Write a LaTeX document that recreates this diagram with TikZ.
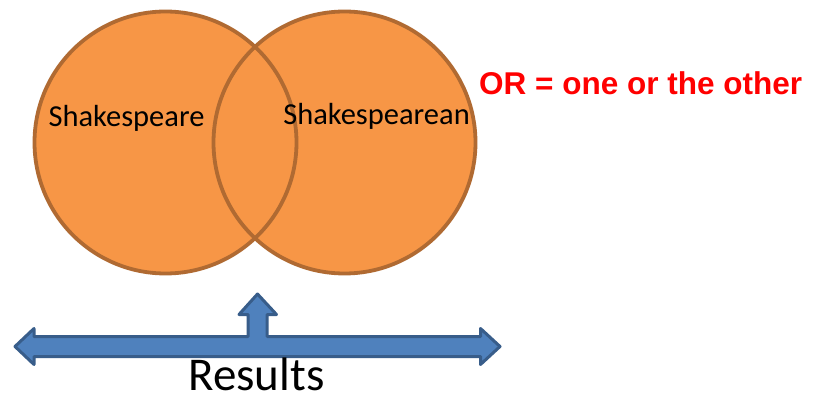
\documentclass[tikz,border=0pt]{standalone}
\usepackage{fontspec}
\setmainfont{Carlito}
\newfontfamily\arialfont{Liberation Sans}
\begin{document}
\begin{tikzpicture}[x=1pt,y=-1pt,
  venn/.style={circle,minimum size=262pt,inner sep=0pt,line width=3.8pt,draw=vennline},
  lbl/.style={inner sep=0pt,anchor=base,text=black,font=\fontsize{30.5}{34}\selectfont},
]
\definecolor{vennfill}{HTML}{F79646}
\definecolor{vennline}{HTML}{B06A32}
\definecolor{arrfill}{HTML}{4F81BD}
\definecolor{arrline}{HTML}{385D8A}
\definecolor{orred}{HTML}{FF0000}
\useasboundingbox[fill=white] (0,0) rectangle (822,398);
% fills
\node[venn,draw=none,fill=vennfill] (Lf) at (165.5,142.5) {};
\node[venn,draw=none,fill=vennfill] (Rf) at (344.5,142.5) {};
% outlines
\node[venn] (L) at (165.5,142.5) {};
\node[venn] (R) at (344.5,142.5) {};
% labels
\node[lbl] (ls) at (126.5,127) {Shakespeare};
\node[lbl] (rs) at (376.5,125) {Shakespearean};
\node[inner sep=0pt,anchor=base west,text=orred,font=\arialfont\bfseries\fontsize{31.5}{36}\selectfont] (or) at (479,95) {OR = one or the other};
% arrow
\draw[line width=3pt,line join=round,draw=arrline,fill=arrfill]
  (15,346.5) -- (34,328.5) -- (34,336.5) -- (248,336.5) -- (248,314.5) -- (239,314.5)
  -- (257.5,294) -- (276.5,314.5) -- (267,314.5) -- (267,336.5) -- (480.5,336.5)
  -- (480.5,328.5) -- (500,346.5) -- (480.5,364.5) -- (480.5,356.5) -- (34,356.5)
  -- (34,364.5) -- cycle;
\coordinate (tip) at (257.5,294);
\node[inner sep=0pt,anchor=base,text=black,font=\fontsize{47}{52}\selectfont] (res) at (256.5,390.5) {Results};
\end{tikzpicture}
\end{document}
